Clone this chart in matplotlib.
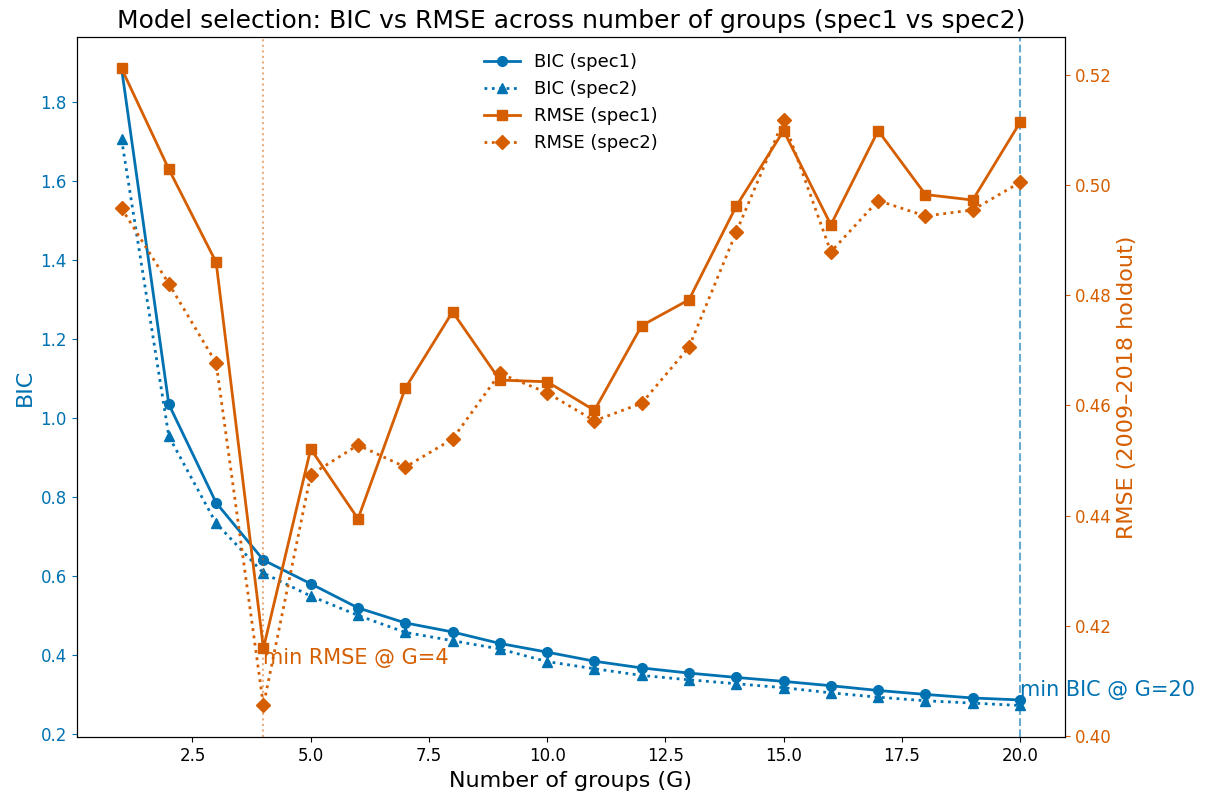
from matplotlib import pyplot as plt
import numpy as np

# numero de grupos evaluados
groups = np.arange(1, 21)

# BIC (escalado) para cada especificacion
bic_spec1 = [1.884, 1.034, 0.785, 0.640, 0.580, 0.519, 0.481, 0.458, 0.429, 0.407,
             0.384, 0.367, 0.354, 0.343, 0.333, 0.322, 0.310, 0.300, 0.291, 0.286]
bic_spec2 = [1.705, 0.953, 0.733, 0.607, 0.549, 0.500, 0.457, 0.436, 0.415, 0.383,
             0.365, 0.348, 0.337, 0.327, 0.317, 0.304, 0.293, 0.284, 0.278, 0.272]

# RMSE en el periodo de validacion 2009-2018
rmse_spec1 = [0.5212, 0.5029, 0.4860, 0.4159, 0.4521, 0.4394, 0.4631, 0.4770, 0.4646, 0.4643,
              0.4591, 0.4745, 0.4792, 0.4962, 0.5099, 0.4928, 0.5099, 0.4983, 0.4973, 0.5114]
rmse_spec2 = [0.4958, 0.4821, 0.4677, 0.4055, 0.4474, 0.4528, 0.4488, 0.4539, 0.4658, 0.4623,
              0.4572, 0.4604, 0.4706, 0.4915, 0.5118, 0.4879, 0.4972, 0.4944, 0.4955, 0.5005]

blue = '#0072B2'
orange = '#D55E00'

fig = plt.figure(figsize=(12.07, 7.96), dpi=100)
ax = fig.add_axes([0.0635, 0.0737, 0.8188, 0.8803])
ax2 = ax.twinx()

l1, = ax.plot(groups, bic_spec1, '-o', color=blue, lw=2, ms=7, label='BIC (spec1)')
l2, = ax.plot(groups, bic_spec2, ':^', color=blue, lw=2, ms=7, label='BIC (spec2)')
l3, = ax2.plot(groups, rmse_spec1, '-s', color=orange, lw=2, ms=7, label='RMSE (spec1)')
l4, = ax2.plot(groups, rmse_spec2, ':D', color=orange, lw=2, ms=7, label='RMSE (spec2)')

# minimos
g_bic = groups[int(np.argmin(bic_spec1))]
g_rmse = groups[int(np.argmin(rmse_spec1))]
ax.axvline(g_bic, color=blue, ls='--', lw=1.5, alpha=0.6)
ax2.axvline(g_rmse, color=orange, ls=':', lw=1.5, alpha=0.5)
ax.text(g_bic, min(bic_spec1), f'min BIC @ G={g_bic}', color=blue, fontsize=15,
        va='bottom', ha='left')
ax2.text(g_rmse, min(rmse_spec1), f'min RMSE @ G={g_rmse}', color=orange, fontsize=15,
         va='top', ha='left')

ax.set_xlabel('Number of groups (G)', fontsize=16)
ax.set_ylabel('BIC', color=blue, fontsize=16)
ax2.set_ylabel('RMSE (2009–2018 holdout)', color=orange, fontsize=16)
ax.tick_params(axis='y', colors=blue, labelsize=12)
ax.tick_params(axis='x', labelsize=12)
ax2.tick_params(axis='y', colors=orange, labelsize=12)
ax.set_title('Model selection: BIC vs RMSE across number of groups (spec1 vs spec2)',
             fontsize=18)

ax.legend(handles=[l1, l2, l3, l4], loc='upper center', frameon=False, fontsize=13)

plt.savefig('out.png', dpi=100)
